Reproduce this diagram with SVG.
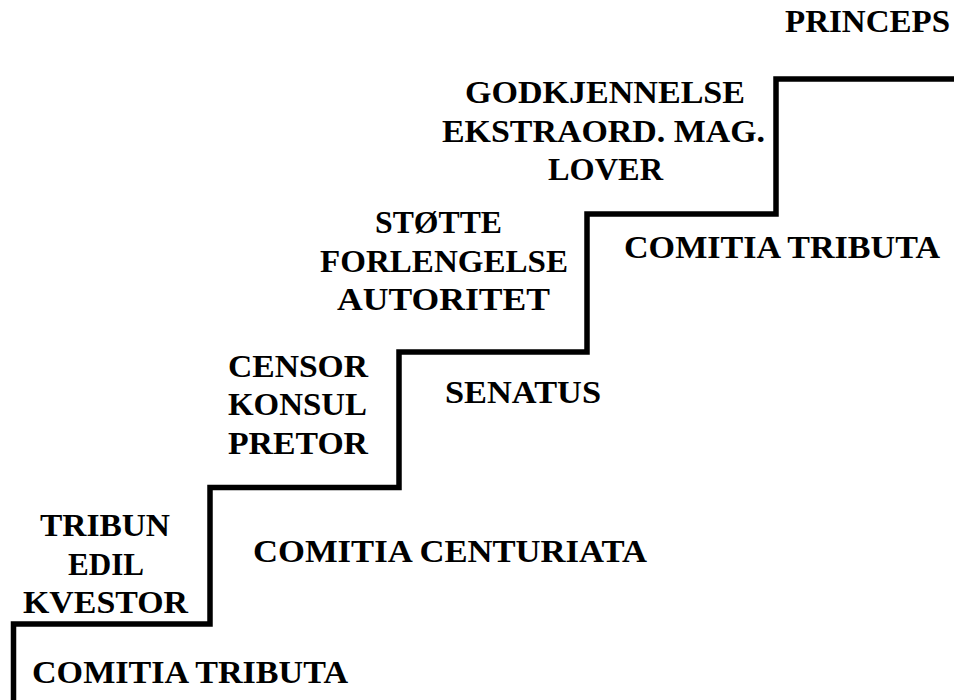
<svg xmlns="http://www.w3.org/2000/svg" width="954" height="700" viewBox="0 0 954 700">
<style>
text{font-family:"Liberation Serif","Times New Roman",serif;font-weight:bold;font-size:31px;fill:#000}
.stair{fill:none;stroke:#000;stroke-width:5.5;stroke-linejoin:miter}
</style>
<rect width="954" height="700" fill="#fff"/>
<g id="connectors">
<path class="stair" d="M13.5,700 V624 H210 V487.5 H399 V352 H587 V214 H776 V79 H954"/>
</g>
<g id="comitia-tributa-low"><text x="32" y="683" textLength="316" lengthAdjust="spacingAndGlyphs">COMITIA TRIBUTA</text></g>
<g id="lower-magistrates">
<text x="40" y="536" textLength="130" lengthAdjust="spacingAndGlyphs">TRIBUN</text>
<text x="68" y="575" textLength="76" lengthAdjust="spacingAndGlyphs">EDIL</text>
<text x="23" y="613" textLength="165" lengthAdjust="spacingAndGlyphs">KVESTOR</text>
</g>
<g id="comitia-centuriata"><text x="253" y="562" textLength="394" lengthAdjust="spacingAndGlyphs">COMITIA CENTURIATA</text></g>
<g id="higher-magistrates">
<text x="228" y="377" textLength="140" lengthAdjust="spacingAndGlyphs">CENSOR</text>
<text x="228" y="415" textLength="139" lengthAdjust="spacingAndGlyphs">KONSUL</text>
<text x="228" y="454" textLength="140" lengthAdjust="spacingAndGlyphs">PRETOR</text>
</g>
<g id="senatus"><text x="445" y="403" textLength="156" lengthAdjust="spacingAndGlyphs">SENATUS</text></g>
<g id="senate-powers">
<text x="375" y="233" textLength="127" lengthAdjust="spacingAndGlyphs">STØTTE</text>
<text x="320" y="272" textLength="248" lengthAdjust="spacingAndGlyphs">FORLENGELSE</text>
<text x="337" y="310" textLength="213" lengthAdjust="spacingAndGlyphs">AUTORITET</text>
</g>
<g id="comitia-tributa-high"><text x="624" y="258" textLength="316" lengthAdjust="spacingAndGlyphs">COMITIA TRIBUTA</text></g>
<g id="tributa-powers">
<text x="465" y="103" textLength="280" lengthAdjust="spacingAndGlyphs">GODKJENNELSE</text>
<text x="442" y="142" textLength="323" lengthAdjust="spacingAndGlyphs">EKSTRAORD. MAG.</text>
<text x="548" y="180" textLength="115" lengthAdjust="spacingAndGlyphs">LOVER</text>
</g>
<g id="princeps"><text x="785" y="32" textLength="165" lengthAdjust="spacingAndGlyphs">PRINCEPS</text></g>
</svg>
